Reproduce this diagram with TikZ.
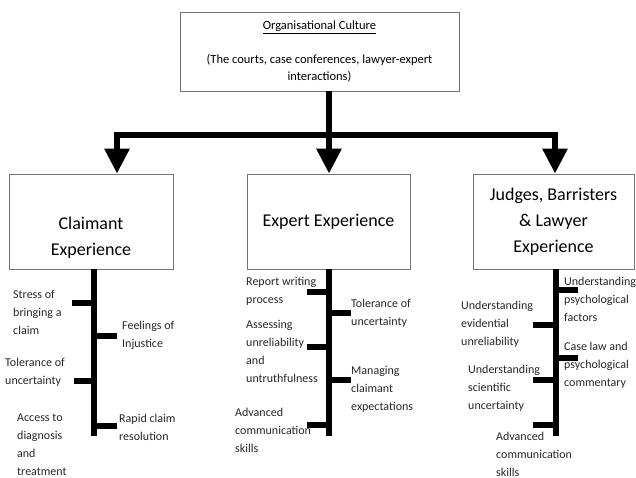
\documentclass[tikz,border=0pt]{standalone}
\usepackage{fontspec}
\setmainfont{Carlito}
\usetikzlibrary{arrows.meta}

\tikzset{
    box/.style={draw=black!55, line width=0.8pt, align=center, inner sep=2pt},
    bigtxt/.style={font=\fontsize{18}{26}\selectfont},
    lbl/.style={font=\fontsize{12}{18}\selectfont, align=left, inner sep=0pt, anchor=north west, text=black!85},
    bar/.style={line width=6pt},
    bararrow/.style={bar, -{Triangle[width=24pt,length=25pt]}},
}

\begin{document}
\begin{tikzpicture}[x=1pt, y=-1pt]
    \useasboundingbox (0,0) rectangle (636,478);
    \def\cx{94}  % claimant spine
    \def\ex{329} % expert spine
    \def\jx{556} % judges spine
    \def\bot{436} % end of the spines

    % Organisational culture
    \node[box, minimum width=279pt, minimum height=79pt, font=\fontsize{12.5}{17}\selectfont] (culture) at (319.5,51.5)
        {\underline{Organisational Culture}\\[17pt](The courts, case conferences, lawyer-expert\\interactions)};

    % Experience boxes
    \node[box, bigtxt, minimum width=164pt, minimum height=95pt] (claim) at (91,221.5) {\strut\\Claimant\\Experience};
    \node[box, bigtxt, minimum width=163pt, minimum height=95pt] (expert) at (328.5,221.5) {Expert Experience};
    \node[box, bigtxt, minimum width=161pt, minimum height=95pt] (judges) at (553.5,221.5) {Judges, Barristers\\\& Lawyer\\Experience};

    % Branching arrows
    \coordinate (hub) at (\ex,135);
    \draw[bar] (culture.south -| hub) -- (hub);
    \draw[bararrow] (hub) -| ([xshift=26pt]claim.north);
    \draw[bararrow] (hub) -- (hub |- expert.north);
    \draw[bararrow] (hub) -| ([xshift=1.5pt]judges.north);

    % Spines and ticks
    \coordinate (cs) at (claim.south -| \cx,0);
    \coordinate (es) at (expert.south -| \ex,0);
    \coordinate (js) at (judges.south -| \jx,0);
    \draw[bar] (cs) -- (\cx,\bot);
    \draw[bar] (es) -- (\ex,\bot);
    \draw[bar] (js) -- (\jx,\bot);
    \foreach \y/\d in {303/-22, 336/23, 381/-20, 426/23}
        \draw[bar] (\cx,\y) -- ++(\d,0);
    \foreach \y/\d in {292/-22, 313/22, 347/-22, 380/22, 425/-22}
        \draw[bar] (\ex,\y) -- ++(\d,0);
    \foreach \y/\d in {290/22, 325/-23, 358/22, 380/-23, 425/-23}
        \draw[bar] (\jx,\y) -- ++(\d,0);

    % Claimant labels
    \node[lbl] (c1) at (13,290) {Stress of\\bringing a\\claim};
    \node[lbl] (c2) at (122,321) {Feelings of\\Injustice};
    \node[lbl] (c3) at (5,358) {Tolerance of\\uncertainty};
    \node[lbl] (c4) at (17,414) {Access to\\diagnosis\\and\\treatment};
    \node[lbl] (c5) at (119,414) {Rapid claim\\resolution};

    % Expert labels
    \node[lbl] (e1) at (246,277) {Report writing\\process};
    \node[lbl] (e2) at (351,299) {Tolerance of\\uncertainty};
    \node[lbl] (e3) at (246,320) {Assessing\\unreliability\\and\\untruthfulness};
    \node[lbl] (e4) at (351,366) {Managing\\claimant\\expectations};
    \node[lbl] (e5) at (235,408) {Advanced\\communication\\skills};

    % Judges labels
    \node[lbl] (j1) at (564,277) {Understanding\\psychological\\factors};
    \node[lbl] (j2) at (461,301) {Understanding\\evidential\\unreliability};
    \node[lbl] (j3) at (564,342) {Case law and\\psychological\\commentary};
    \node[lbl] (j4) at (468,365) {Understanding\\scientific\\uncertainty};
    \node[lbl] (j5) at (496,432) {Advanced\\communication\\skills};
\end{tikzpicture}
\end{document}
